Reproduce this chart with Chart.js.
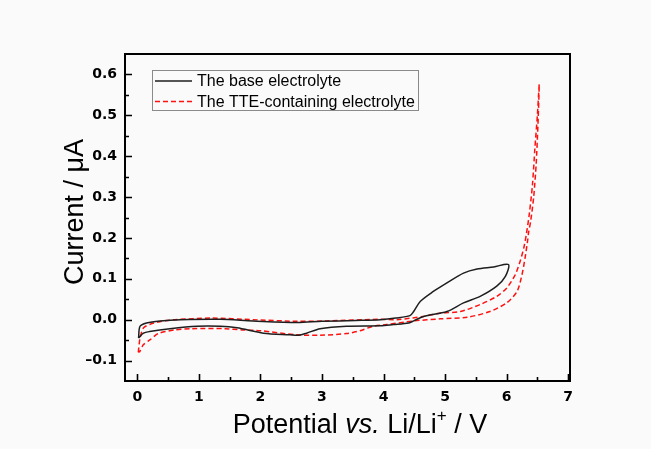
<!DOCTYPE html>
<html>
<head>
<meta charset="utf-8">
<script src="https://cdn.jsdelivr.net/npm/chart.js@4/dist/chart.umd.min.js"></script>
<style>
  html, body { margin: 0; padding: 0; background: #fafafa; }
  canvas { display: block; }
</style>
</head>
<body>
<canvas id="cv" width="651" height="449"></canvas>
<script>
// base electrolyte: one closed sweep, forward branch then return
const baseV = [0.02, 0.044, 0.15, 0.37, 0.7, 1.35, 1.88, 2.59, 3.0, 3.55, 3.95, 4.2, 4.43, 4.49, 4.6, 4.81, 5.03, 5.3, 5.52, 5.79, 6.03,
    5.98, 5.84, 5.57, 5.3, 5.03, 4.65, 4.49, 4.41, 4.16, 3.95, 3.4, 2.97, 2.75, 2.62, 2.48, 2.05, 1.62, 1.35, 0.97, 0.53, 0.2, 0.1, 0.02];
const baseI = [-0.045, -0.016, -0.008, -0.003, 0.0, 0.001, -0.003, -0.007, -0.004, -0.002, 0.0, 0.004, 0.01, 0.02, 0.045, 0.069, 0.09, 0.114, 0.124, 0.129, 0.135,
    0.106, 0.082, 0.057, 0.041, 0.02, 0.008, -0.003, -0.008, -0.012, -0.015, -0.016, -0.022, -0.033, -0.038, -0.037, -0.033, -0.02, -0.016, -0.016, -0.022, -0.029, -0.033, -0.045];

// TTE-containing electrolyte, swept out to 6.5 V
const tteV = [0.016, 0.044, 0.1, 0.21, 0.4, 0.61, 1.21, 1.88, 2.59, 3.07, 3.95, 4.22, 4.65, 4.92, 5.25, 5.57, 5.84, 6.0, 6.14, 6.22, 6.28, 6.32, 6.37, 6.42, 6.46, 6.5, 6.53,
    6.51, 6.48, 6.44, 6.39, 6.36, 6.34, 6.3, 6.25, 6.17, 6.0, 5.73, 5.36, 4.92, 4.49, 4.05, 3.83, 3.62, 3.4, 2.97, 2.59, 2.0, 1.7, 1.43, 0.88, 0.61, 0.34, 0.21, 0.1, 0.04, 0.016];
const tteI = [-0.08, -0.045, -0.02, -0.011, -0.004, 0.0, 0.004, 0.0, -0.004, -0.003, 0.001, 0.0, 0.008, 0.016, 0.02, 0.037, 0.057, 0.077, 0.11, 0.143, 0.176, 0.208, 0.26, 0.33, 0.42, 0.5, 0.576,
    0.48, 0.38, 0.3, 0.24, 0.216, 0.192, 0.151, 0.11, 0.069, 0.041, 0.02, 0.006, 0.002, -0.003, -0.012, -0.016, -0.027, -0.034, -0.038, -0.037, -0.027, -0.025, -0.022, -0.022, -0.025, -0.034, -0.049, -0.061, -0.078, -0.08];

const xTickValues = [0, 1, 2, 3, 4, 5, 6, 7];
const yTickValues = [-0.1, 0.0, 0.1, 0.2, 0.3, 0.4, 0.5, 0.6];
const seriesNames = ["The base electrolyte", "The TTE-containing electrolyte"];

const toPoints = (xs, ys) => xs.map((x, i) => ({ x: x, y: ys[i] }));

// frame, inward ticks, legend box and the two axis titles
const decorations = {
    id: "decorations",
    afterDraw(chart) {
        const ctx = chart.ctx;
        const a = chart.chartArea;
        const xs = chart.scales.x, ys = chart.scales.y;
        ctx.save();
        ctx.strokeStyle = "#000";
        ctx.lineWidth = 2;
        ctx.strokeRect(a.left, a.top, a.right - a.left, a.bottom - a.top);

        ctx.lineWidth = 1.6;
        ctx.beginPath();
        xTickValues.forEach((v, i) => {
            const px = Math.round(xs.getPixelForValue(v)) + 0.5;
            ctx.moveTo(px, a.bottom); ctx.lineTo(px, a.bottom - 7);
            if (i < xTickValues.length - 1) {
                const mx = Math.round(xs.getPixelForValue((v + xTickValues[i + 1]) / 2)) + 0.5;
                ctx.moveTo(mx, a.bottom); ctx.lineTo(mx, a.bottom - 4);
            }
        });
        yTickValues.forEach((v, i) => {
            const py = Math.round(ys.getPixelForValue(v)) + 0.5;
            ctx.moveTo(a.left, py); ctx.lineTo(a.left + 7, py);
            if (i < yTickValues.length - 1) {
                const my = Math.round(ys.getPixelForValue((v + yTickValues[i + 1]) / 2)) + 0.5;
                ctx.moveTo(a.left, my); ctx.lineTo(a.left + 4, my);
            }
        });
        ctx.stroke();

        // legend
        ctx.lineWidth = 1;
        ctx.strokeStyle = "#8a8a8a";
        ctx.strokeRect(152.5, 70.5, 266, 40);
        ctx.font = "16px 'Liberation Sans', Arial, sans-serif";
        ctx.textBaseline = "middle";
        ctx.fillStyle = "#000";
        [81, 101.5].forEach((ly, i) => {
            const ds = chart.data.datasets[i];
            ctx.beginPath();
            ctx.strokeStyle = ds.borderColor;
            ctx.lineWidth = ds.borderWidth;
            ctx.setLineDash(ds.borderDash || []);
            ctx.moveTo(155, ly); ctx.lineTo(192, ly);
            ctx.stroke();
            ctx.setLineDash([]);
            ctx.fillText(seriesNames[i], 197, ly + 1);
        });

        // x axis title with italic "vs." and superscript "+"
        const big = "27px 'Liberation Sans', Arial, sans-serif";
        const ital = "italic 27px 'Liberation Sans', Arial, sans-serif";
        const sup = "17px 'Liberation Sans', Arial, sans-serif";
        const parts = [
            { t: "Potential ", f: big, dy: 0 },
            { t: "vs.", f: ital, dy: 0 },
            { t: " Li/Li", f: big, dy: 0 },
            { t: "+", f: sup, dy: -12 },
            { t: " / V", f: big, dy: 0 }
        ];
        ctx.textBaseline = "alphabetic";
        ctx.textAlign = "left";
        let total = 0;
        parts.forEach(p => { ctx.font = p.f; p.w = ctx.measureText(p.t).width; total += p.w; });
        let x0 = 360 - total / 2;
        parts.forEach(p => { ctx.font = p.f; ctx.fillText(p.t, x0, 433 + p.dy); x0 += p.w; });

        ctx.translate(83, 212);
        ctx.rotate(-Math.PI / 2);
        ctx.font = big;
        ctx.textAlign = "center";
        ctx.fillText("Current / \u03bcA", 0, 0);
        ctx.restore();
    }
};

new Chart(document.getElementById("cv"), {
    type: "scatter",
    data: {
        datasets: [
            {
                label: seriesNames[0],
                data: toPoints(baseV, baseI),
                showLine: true,
                borderColor: "#1e1e1e",
                borderWidth: 1.5,
                pointRadius: 0,
                tension: 0.3
            },
            {
                label: seriesNames[1],
                data: toPoints(tteV, tteI),
                showLine: true,
                borderColor: "#ff1010",
                borderWidth: 1.5,
                borderDash: [5, 3],
                pointRadius: 0,
                tension: 0.25
            }
        ]
    },
    options: {
        responsive: false,
        animation: false,
        layout: { padding: { top: 54, right: 81, left: 0, bottom: 0 } },
        plugins: {
            legend: { display: false },
            tooltip: { enabled: false }
        },
        scales: {
            x: {
                min: -0.2,
                max: 7.03,
                grid: { display: false, drawTicks: false },
                border: { display: false },
                afterBuildTicks: s => { s.ticks = xTickValues.map(v => ({ value: v })); },
                afterFit: s => { s.height = 68; },
                ticks: {
                    padding: 8,
                    color: "#000",
                    font: { family: "'DejaVu Sans'", size: 14, weight: "bold" },
                    callback: v => String(v)
                }
            },
            y: {
                min: -0.15,
                max: 0.65,
                grid: { display: false, drawTicks: false },
                border: { display: false },
                afterBuildTicks: s => { s.ticks = yTickValues.map(v => ({ value: v })); },
                afterFit: s => { s.width = 125; },
                ticks: {
                    padding: 8,
                    color: "#000",
                    font: { family: "'DejaVu Sans'", size: 14, weight: "bold" },
                    callback: v => (v < 0 ? "\u2013" + Math.abs(v).toFixed(1) : v.toFixed(1))
                }
            }
        }
    },
    plugins: [decorations]
});
</script>
</body>
</html>
